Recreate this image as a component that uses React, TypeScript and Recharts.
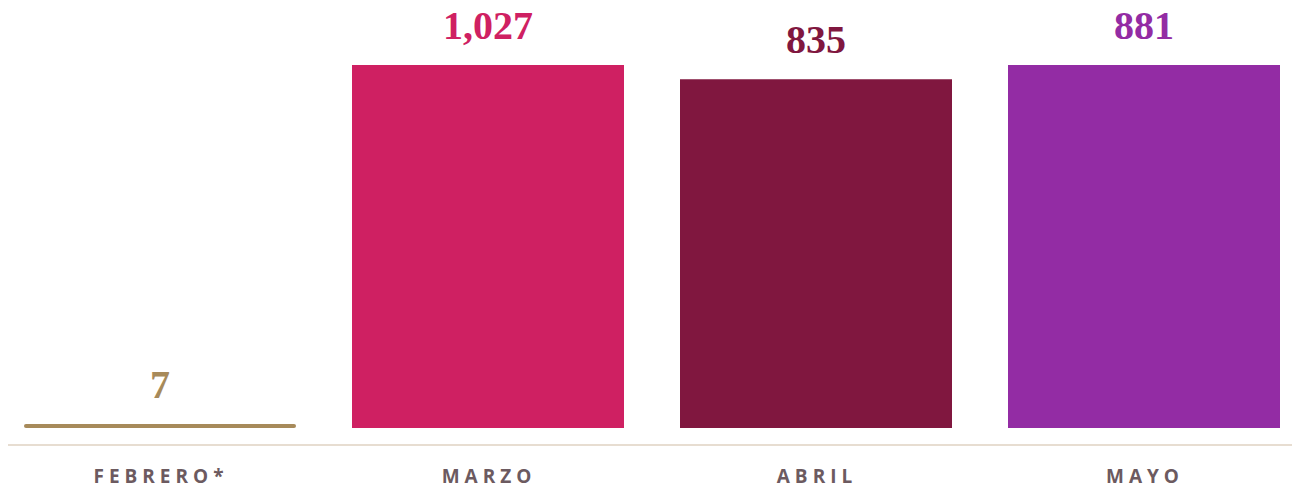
import { BarChart, Bar, XAxis, YAxis, Cell, LabelList, Rectangle } from 'recharts';

// months shown along the bottom
const months = ['FEBRERO*', 'MARZO', 'ABRIL', 'MAYO'];
// totals printed above each bar
const totals = [7, 1027, 835, 881];
// bar lengths as drawn in the source (the source does not draw them to scale with the totals)
const barLengths = [7, 1027, 987, 1027];
const colors = ['#a78a5a', '#cf2062', '#80173f', '#932ca4'];

const data = months.map((month, i) => ({
    month,
    total: totals[i],
    length: barLengths[i],
}));

const fmt = (v: number) => v.toLocaleString('en-US');

const BarShape = (props: any) => {
    const { x, y, width, height, fill } = props;
    const thin = height < 6;
    return <Rectangle x={x} y={y} width={width} height={height} fill={fill} radius={thin ? height / 2 : 0} />;
};

const ValueLabel = (props: any) => {
    const { x, y, width, index } = props;
    return (
        <text
            x={x + width / 2}
            y={y - 26}
            textAnchor="middle"
            fill={colors[index]}
            style={{ fontFamily: '"Liberation Serif", serif', fontWeight: 700, fontSize: 40 }}
        >
            {fmt(totals[index])}
        </text>
    );
};

const MonthTick = (props: any) => {
    const { x, y, payload } = props;
    return (
        <text
            x={x + 1}
            y={y + 38}
            textAnchor="middle"
            fill="#6c5a60"
            style={{ fontFamily: '"Open Sans", sans-serif', fontWeight: 700, fontSize: 19, letterSpacing: 5 }}
        >
            {payload.value}
        </text>
    );
};

export default function App() {
    return (
        <div style={{ position: 'absolute', left: 0, top: 0, width: 1292, height: 486, overflow: 'hidden', background: '#fff' }}>
            <div style={{ position: 'absolute', left: 8, top: 0, width: 1284, height: 486, overflow: 'hidden' }}>
                <BarChart
                    width={1312}
                    height={496}
                    data={data}
                    margin={{ top: 0, right: 0, bottom: 0, left: 0 }}
                    barCategoryGap={28}
                    style={{ marginLeft: -12 }}
                >
                    <XAxis
                        dataKey="month"
                        height={51}
                        axisLine={{ stroke: '#e7ddd1', strokeWidth: 2 }}
                        tickLine={false}
                        tickSize={0}
                        tickMargin={0}
                        tick={<MonthTick />}
                        interval={0}
                    />
                    <YAxis hide domain={[-48.1, 1210.9]} />
                    <Bar dataKey="length" minPointSize={4} shape={<BarShape />} isAnimationActive={false}>
                        {data.map((d, i) => (
                            <Cell key={d.month} fill={colors[i]} />
                        ))}
                        <LabelList dataKey="total" content={<ValueLabel />} />
                    </Bar>
                </BarChart>
            </div>
        </div>
    );
}
